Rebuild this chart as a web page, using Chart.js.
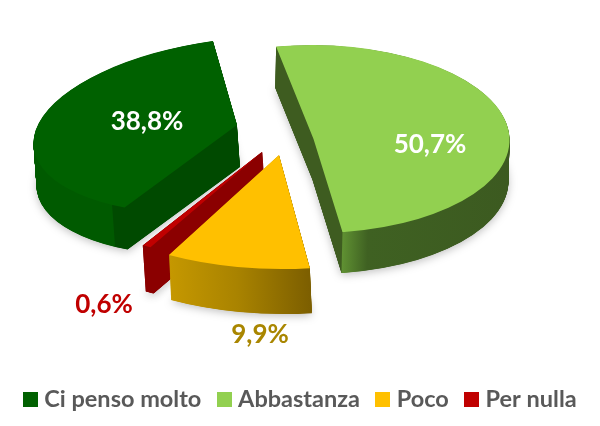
<!DOCTYPE html>
<html>
<head>
<meta charset="utf-8">
<title>Ci penso</title>
<script src="https://cdn.jsdelivr.net/npm/chart.js@4"></script>
<style>
  html, body { margin: 0; padding: 0; background: #fff; }
  canvas { display: block; }
</style>
</head>
<body>
<canvas id="pie" width="600" height="426"></canvas>
<script>
// chart data
const categories = ['Ci penso molto', 'Abbastanza', 'Poco', 'Per nulla'];
const values = [38.8, 50.7, 9.9, 0.6];
const colors = ['#006100', '#92D050', '#FFC000', '#C00000'];

// fake 3D look: where each exploded slice lands on the page
// c = centre of the slice, right/down = where 3 and 6 o'clock of the circle go, depth = extrusion
const sliceShapes = [
  { c: [237, 125], right: [203, -12], down: [-15, 88], depth: [3, 42], wallBorder: 0 },
  { c: [313.5, 139], right: [196, 1], down: [0, 94], depth: [-1, 41], wallBorder: 0 },
  { c: [279, 155], right: [234, 3], down: [-3.7, 114], depth: [2, 45], wallBorder: 0 },
  { c: [262, 152], right: [225, 0], down: [-10, 107], depth: [3, 46], wallBorder: 1 } // keeps the thin tip solid
];
// side wall colours as [page x, colour]
const wallStops = [
  [[30, '#005a00'], [124, '#005a00'], [125, '#004a00'], [240, '#004a00']],
  [[270, '#3e5c20'], [342, '#3e5c20'], [343, '#5f9032'], [368, '#3f6122'], [515, '#3c5a20']],
  [[165, '#c89a00'], [240, '#a98300'], [312, '#7d5f00']],
  [[140, '#8b0000'], [265, '#8b0000']]
];
const drawOrder = [0, 1, 3, 2];

const labelCentres = [[147, 122], [430, 145], [260, 335], [104, 305]];
const labelColors = ['#ffffff', '#ffffff', '#a98600', '#c00000'];

// legend squares, as images so they can sit closer to the text than the legend's own boxes
function legendSquare(color) {
  const c = document.createElement('canvas');
  c.width = 15;
  c.height = 15;
  const g = c.getContext('2d');
  g.fillStyle = color;
  g.fillRect(0, 0, 15, 15);
  return c;
}

function placeSlice(ctx, arc, s, dx, dy) {
  const R = arc.outerRadius;
  ctx.translate(s.c[0] + dx, s.c[1] + dy);
  ctx.transform(s.right[0] / R, s.right[1] / R, s.down[0] / R, s.down[1] / R, 0, 0);
  ctx.translate(-arc.x, -arc.y);
}

const pie3d = {
  id: 'pie3d',
  beforeDatasetDraw(chart) {
    const ctx = chart.ctx;
    const arcs = chart.getDatasetMeta(0).data;
    drawOrder.forEach(i => {
      const arc = arcs[i];
      const s = sliceShapes[i];
      const R = arc.outerRadius;
      const topOptions = arc.options;

      // gradient is made in the arc's own space, so page x is mapped back
      const grad = ctx.createLinearGradient(arc.x - R, 0, arc.x + R, 0);
      wallStops[i].forEach(st => {
        const t = ((st[0] - s.c[0]) / s.right[0] + 1) / 2;
        grad.addColorStop(Math.min(1, Math.max(0, t)), st[1]);
      });
      arc.options = Object.assign({}, topOptions, { backgroundColor: grad, borderColor: grad, borderWidth: s.wallBorder });

      const steps = Math.ceil(Math.abs(s.depth[1])) * 3;
      for (let k = steps; k >= 1; k--) {
        ctx.save();
        if (k === steps) {
          ctx.shadowColor = 'rgba(0,0,0,0.25)';
          ctx.shadowBlur = 8;
          ctx.shadowOffsetY = 2;
        }
        placeSlice(ctx, arc, s, s.depth[0] * k / steps, s.depth[1] * k / steps);
        arc.draw(ctx);
        ctx.restore();
      }

      arc.options = topOptions;
      ctx.save();
      placeSlice(ctx, arc, s, 0, 0);
      arc.draw(ctx);
      ctx.restore();
    });
    return false; // slices are drawn above
  },
  afterDraw(chart) {
    const ctx = chart.ctx;
    ctx.save();
    ctx.font = 'bold 26px Lato';
    ctx.textAlign = 'center';
    ctx.textBaseline = 'middle';
    values.forEach((v, i) => {
      ctx.fillStyle = labelColors[i];
      ctx.fillText(v.toFixed(1).replace('.', ',') + '%', labelCentres[i][0], labelCentres[i][1]);
    });
    ctx.restore();
  }
};

new Chart(document.getElementById('pie'), {
  type: 'pie',
  data: {
    labels: categories,
    datasets: [{ data: values, backgroundColor: colors, borderWidth: 0 }]
  },
  options: {
    responsive: false,
    animation: false,
    rotation: 209.3,
    layout: { padding: { bottom: 5, left: 7.5 } },
    plugins: {
      tooltip: { enabled: false },
      legend: {
        position: 'bottom',
        align: 'start',
        labels: {
          usePointStyle: true,
          pointStyleWidth: 4,
          padding: 21,
          color: '#595959',
          font: { family: 'Lato', size: 23.5, weight: 'bold' },
          generateLabels(chart) {
            const items = Chart.overrides.pie.plugins.legend.labels.generateLabels(chart);
            return items.map((it, i) => Object.assign(it, { pointStyle: legendSquare(colors[i]) }));
          }
        }
      }
    }
  },
  plugins: [pie3d]
});
</script>
</body>
</html>
